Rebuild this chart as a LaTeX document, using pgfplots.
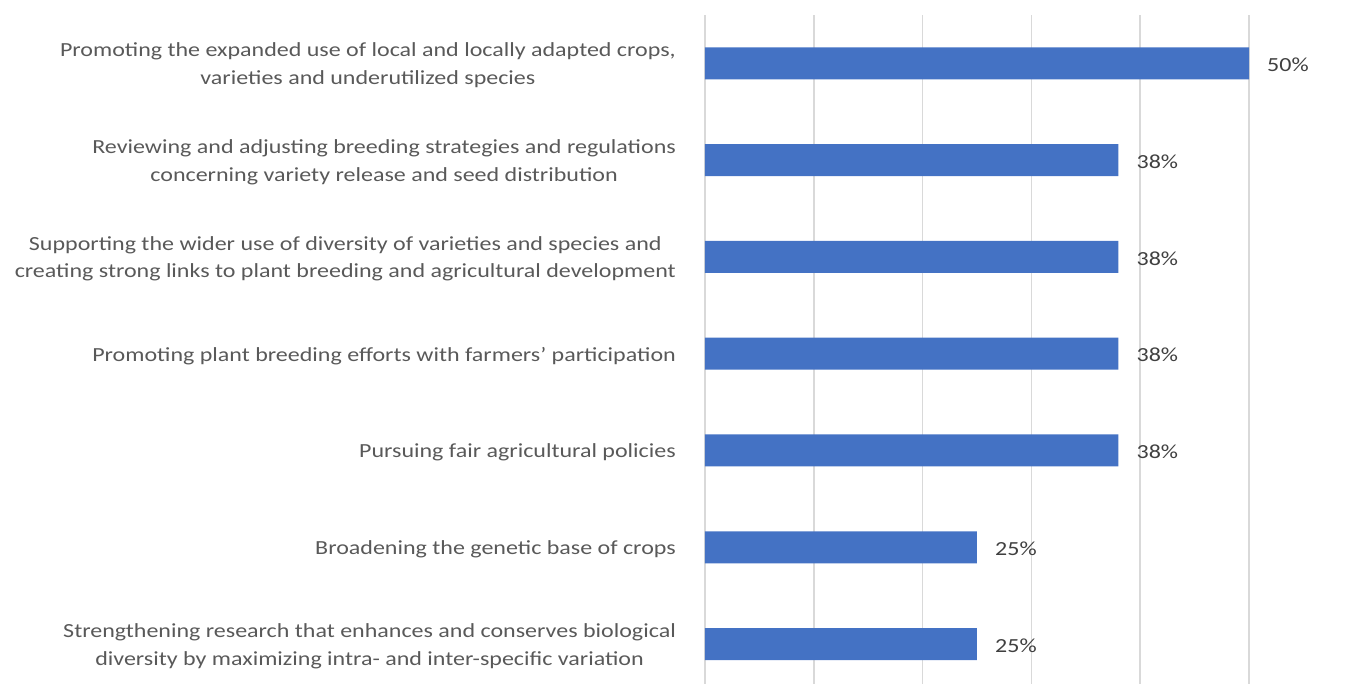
\documentclass[border=0pt]{standalone}
\usepackage{fontspec}
\setmainfont{Carlito}[FakeStretch=1.2]
\usepackage{pgfplots}
\pgfplotsset{compat=1.18}
\definecolor{barblue}{HTML}{4472C4}
\definecolor{gridgray}{HTML}{D9D9D9}
\definecolor{catgray}{HTML}{595959}
\definecolor{labgray}{HTML}{404040}
\begin{document}
\begin{tikzpicture}
\begin{axis}[
  scale only axis,
  width=544pt, height=669pt,
  xbar, bar width=32pt,
  xmin=0, xmax=50,
  ymin=-0.413, ymax=6.5,
  xtick={0,10,20,30,40,50},
  xticklabels={},
  xmajorgrids,
  major grid style={gridgray, line width=1.5pt},
  ytick={0,1,2,3,4,5,6},
  yticklabels={
    {Strengthening research that enhances and conserves biological\\diversity by maximizing intra- and inter-specific variation},
    {Broadening the genetic base of crops},
    {Pursuing fair agricultural policies},
    {Promoting plant breeding efforts with farmers’ participation},
    {Supporting the wider use of diversity of varieties and species and\\creating strong links to plant breeding and agricultural development},
    {Reviewing and adjusting breeding strategies and regulations\\concerning variety release and seed distribution},
    {Promoting the expanded use of local and locally adapted crops,\\varieties and underutilized species}
  },
  yticklabel style={align=center, anchor=east, inner sep=0pt, xshift=-29pt, yshift=-2pt,
    font={\fontsize{20}{27.5}\selectfont}, text=catgray},
  axis line style={draw=none},
  tick style={draw=none},
  major tick length=0pt,
  point meta=explicit symbolic,
  nodes near coords,
  nodes near coords style={anchor=west, inner sep=0pt, xshift=18pt, yshift=-1.5pt,
    font={\fontsize{20}{24}\selectfont}, text=labgray},
]
\addplot[fill=barblue, draw=none] coordinates {
  (25,0) [25\%]
  (25,1) [25\%]
  (38,2) [38\%]
  (38,3) [38\%]
  (38,4) [38\%]
  (38,5) [38\%]
  (50,6) [50\%]
};
\end{axis}
\pgfresetboundingbox
\path[use as bounding box] (-705pt,0pt) rectangle (643pt,684pt);
\end{tikzpicture}
\end{document}
